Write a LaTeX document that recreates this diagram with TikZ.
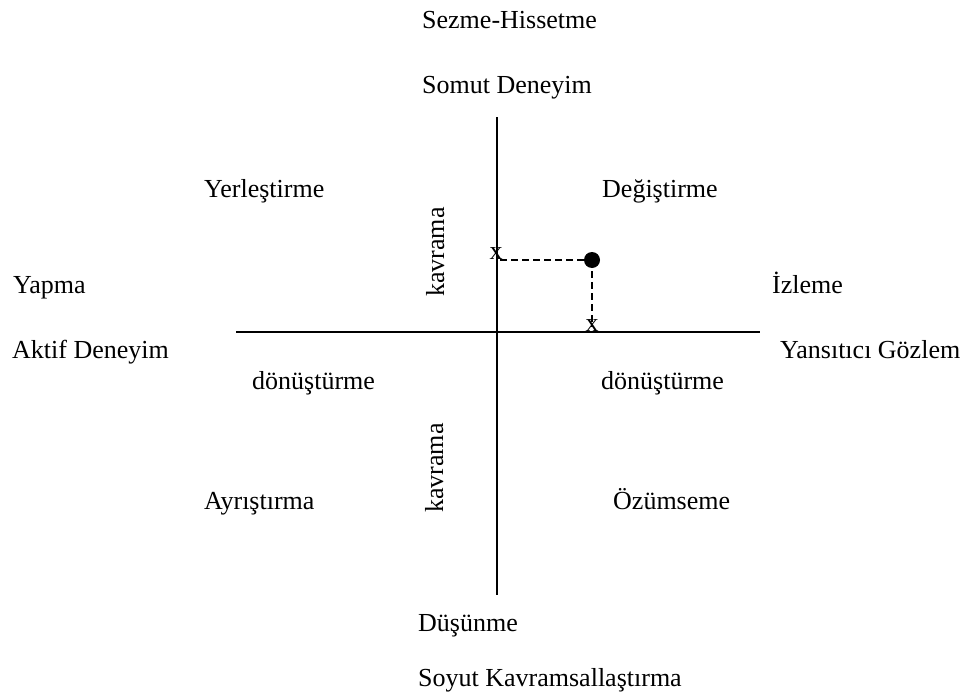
\documentclass[tikz,border=0pt]{standalone}
\usepackage{fontspec}
\setmainfont{Liberation Serif}
\begin{document}
\begin{tikzpicture}[x=1pt,y=-1pt,
  lbl/.style={anchor=base west,inner sep=0pt,font=\fontsize{26}{30}\selectfont},
  vlbl/.style={anchor=base,inner sep=0pt,rotate=90,font=\fontsize{26}{30}\selectfont},
  xmark/.style={inner sep=0pt,font=\fontsize{26}{30}\selectfont},
  axis/.style={line width=1.6pt},
  guide/.style={line width=1.6pt,dash pattern=on 7pt off 4pt}]
\useasboundingbox (0,0) rectangle (970,699);

% axes
\coordinate (top) at (497,117);
\coordinate (bottom) at (497,595);
\coordinate (left) at (236,332);
\coordinate (right) at (760,332);
\draw[axis] (top) -- (bottom);
\draw[axis] (left) -- (right);

% point and its projections
\node[circle,fill=black,inner sep=0pt,minimum size=16pt] (pt) at (592,260) {};
\node[xmark] (xv) at (496,254) {x};
\node[xmark] (xh) at (592,326) {x};
\coordinate (pv) at (500,260);
\coordinate (ph) at (592,327);
\draw[guide] (pv) -- (pt.center);
\draw[guide] (pt.center) -- (ph);

% labels
\node[lbl] (sezme) at (422,28) {Sezme-Hissetme};
\node[lbl] (somut) at (422,93) {Somut Deneyim};
\node[lbl] (yerl) at (204,197) {Yerleştirme};
\node[lbl] (degis) at (602,197) {Değiştirme};
\node[lbl] (yapma) at (13,293) {Yapma};
\node[lbl] (aktif) at (12,358) {Aktif Deneyim};
\node[lbl] (izleme) at (772,293) {İzleme};
\node[lbl] (yansit) at (780,358) {Yansıtıcı Gözlem};
\node[lbl] (donL) at (252,389) {dönüştürme};
\node[lbl] (donR) at (601,389) {dönüştürme};
\node[lbl] (ayris) at (204,509) {Ayrıştırma};
\node[lbl] (ozum) at (613,509) {Özümseme};
\node[lbl] (dusun) at (418,631) {Düşünme};
\node[lbl] (soyut) at (418,686) {Soyut Kavramsallaştırma};
\node[vlbl] (kavU) at (444,252) {kavrama};
\node[vlbl] (kavD) at (443,468) {kavrama};
\end{tikzpicture}
\end{document}
